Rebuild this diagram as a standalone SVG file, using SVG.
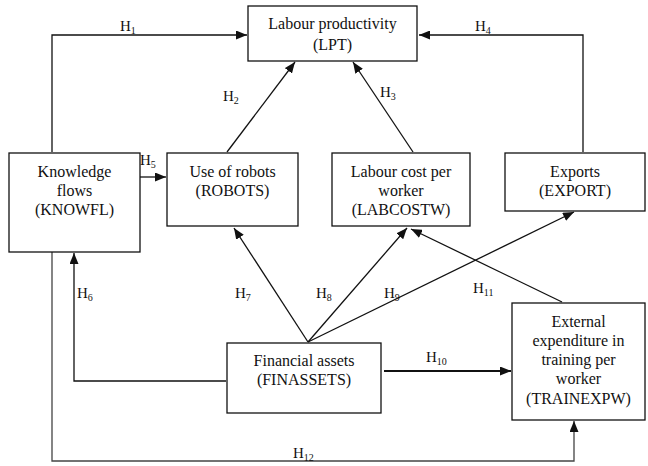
<svg xmlns="http://www.w3.org/2000/svg" width="648" height="466" viewBox="0 0 648 466">
<defs>
<marker id="ah" markerUnits="userSpaceOnUse" markerWidth="11" markerHeight="9" refX="11" refY="4.5" orient="auto">
<path d="M0,0 L11,4.5 L0,9 z" fill="#111"/>
</marker>
<style>
.box{fill:#fff;stroke:#111;stroke-width:1.3}
.t{font-family:"Liberation Serif","Times New Roman",serif;font-size:16px;fill:#111;text-anchor:middle}
.lbl{font-family:"Liberation Serif","Times New Roman",serif;font-size:15px;fill:#111}
.sub{font-size:10px}
.c{fill:none;stroke:#111;stroke-width:1.3}
.a{marker-end:url(#ah)}
</style>
</defs>
<rect width="648" height="466" fill="#fff"/>
<g id="connectors">
<polyline class="c a" points="52,152 52,35 247,35"/>
<polyline class="c a" points="583,152 583,35 419,35"/>
<line class="c a" x1="227" y1="152" x2="295" y2="62"/>
<line class="c a" x1="413" y1="152" x2="353" y2="62"/>
<line class="c a" x1="140" y1="177" x2="166" y2="177"/>
<polyline class="c a" points="226,381 74,381 74,253"/>
<line class="c a" x1="308" y1="342" x2="234" y2="228"/>
<line class="c a" x1="308" y1="342" x2="407" y2="228"/>
<line class="c a" x1="308" y1="342" x2="574" y2="212"/>
<line class="c a" x1="562" y1="302" x2="411" y2="229"/>
<line class="c a" x1="384" y1="371" x2="511" y2="371" style="stroke-width:1.8"/>
<polyline class="c a" points="52,252 52,461 574,461 574,421" style="stroke:#444"/>
<text class="lbl" x="120" y="31">H<tspan class="sub" dy="3">1</tspan></text>
<text class="lbl" x="223" y="101">H<tspan class="sub" dy="3">2</tspan></text>
<text class="lbl" x="380" y="97">H<tspan class="sub" dy="3">3</tspan></text>
<text class="lbl" x="475" y="31">H<tspan class="sub" dy="3">4</tspan></text>
<text class="lbl" x="140" y="165">H<tspan class="sub" dy="3">5</tspan></text>
<text class="lbl" x="77" y="298">H<tspan class="sub" dy="3">6</tspan></text>
<text class="lbl" x="235" y="298">H<tspan class="sub" dy="3">7</tspan></text>
<text class="lbl" x="316" y="298">H<tspan class="sub" dy="3">8</tspan></text>
<text class="lbl" x="384" y="298">H<tspan class="sub" dy="3">9</tspan></text>
<text class="lbl" x="426" y="362">H<tspan class="sub" dy="3">10</tspan></text>
<text class="lbl" x="473" y="293">H<tspan class="sub" dy="3">11</tspan></text>
<text class="lbl" x="293" y="458">H<tspan class="sub" dy="3">12</tspan></text>
</g>
<g id="LPT">
<rect class="box" x="248" y="6" width="169" height="55"/>
<text class="t" x="332.5" y="29">Labour productivity</text>
<text class="t" x="332.5" y="50">(LPT)</text>
</g>
<g id="KNOWFL">
<rect class="box" x="9" y="153" width="131" height="99"/>
<text class="t" x="74.5" y="177">Knowledge</text>
<text class="t" x="74.5" y="196">flows</text>
<text class="t" x="74.5" y="215">(KNOWFL)</text>
</g>
<g id="ROBOTS">
<rect class="box" x="167" y="153" width="131" height="73"/>
<text class="t" x="232.5" y="177">Use of robots</text>
<text class="t" x="232.5" y="196">(ROBOTS)</text>
</g>
<g id="LABCOSTW">
<rect class="box" x="332" y="153" width="138" height="73"/>
<text class="t" x="401" y="177">Labour cost per</text>
<text class="t" x="401" y="196">worker</text>
<text class="t" x="401" y="215">(LABCOSTW)</text>
</g>
<g id="EXPORT">
<rect class="box" x="505" y="153" width="140" height="58"/>
<text class="t" x="575" y="177">Exports</text>
<text class="t" x="575" y="196">(EXPORT)</text>
</g>
<g id="FINASSETS">
<rect class="box" x="227" y="343" width="154" height="70"/>
<text class="t" x="304" y="366">Financial assets</text>
<text class="t" x="304" y="385">(FINASSETS)</text>
</g>
<g id="TRAINEXPW">
<rect class="box" x="512" y="303" width="133" height="117"/>
<text class="t" x="578.5" y="327">External</text>
<text class="t" x="578.5" y="346">expenditure in</text>
<text class="t" x="578.5" y="365">training per</text>
<text class="t" x="578.5" y="384">worker</text>
<text class="t" x="578.5" y="404">(TRAINEXPW)</text>
</g>
</svg>
